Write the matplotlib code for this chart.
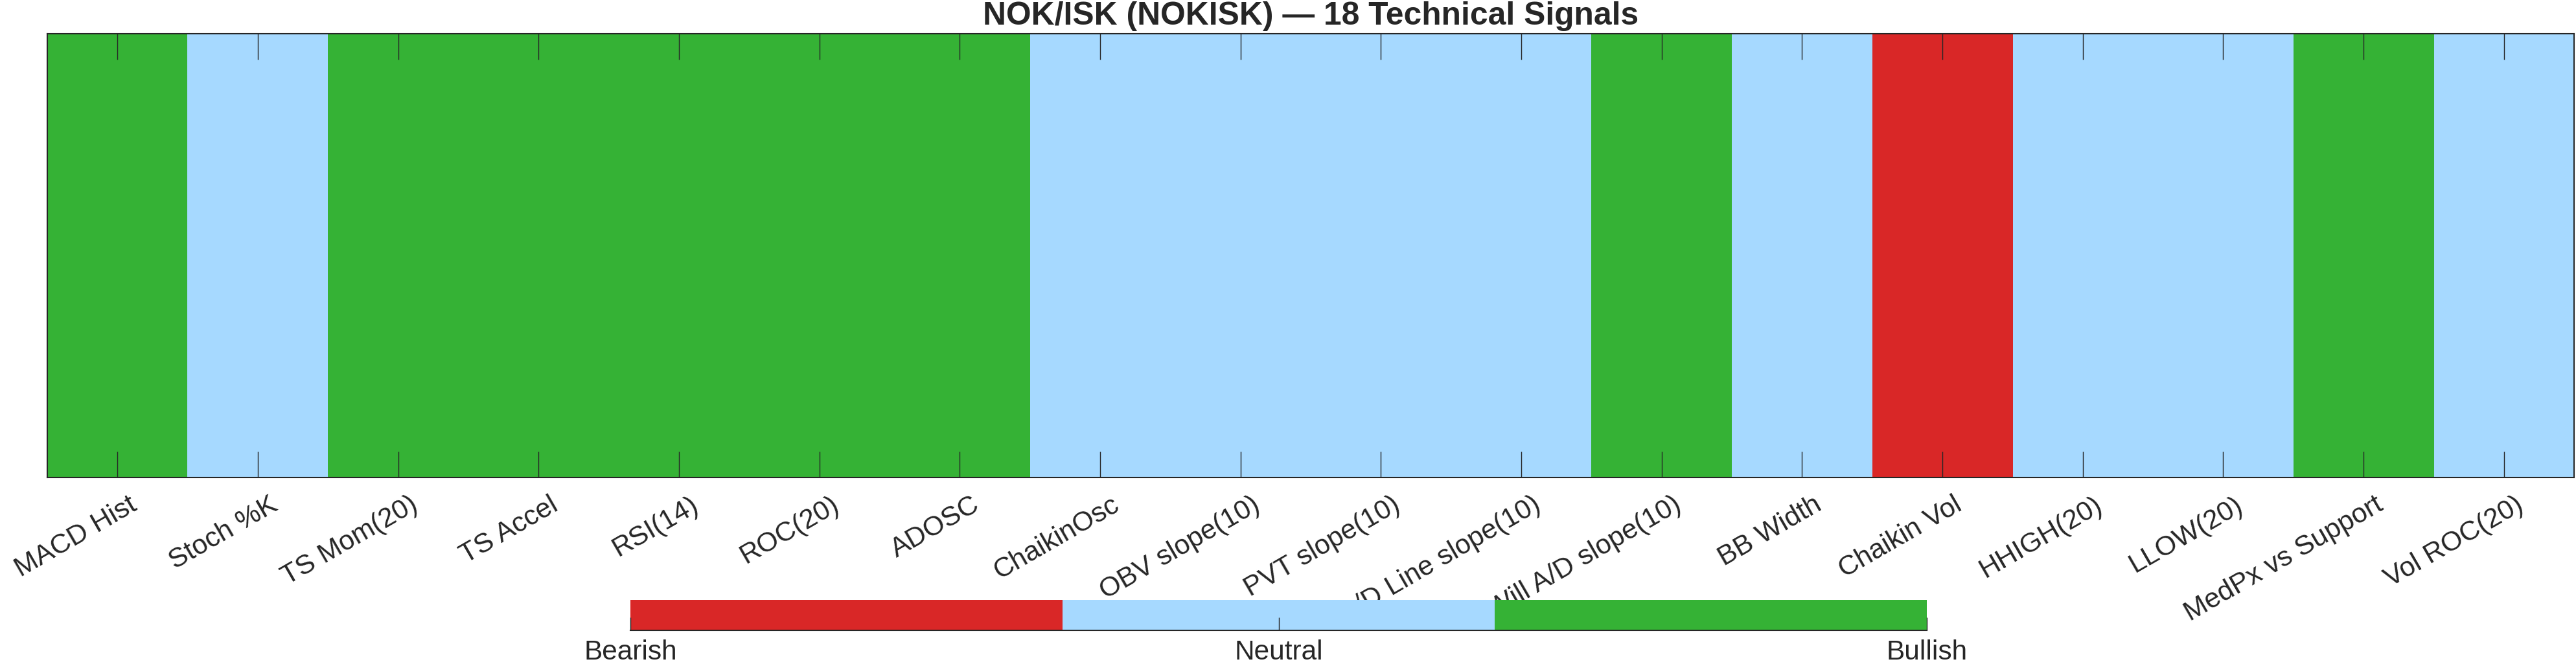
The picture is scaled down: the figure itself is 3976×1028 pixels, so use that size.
import numpy as np
import matplotlib
matplotlib.use("Agg")
import matplotlib.pyplot as plt
from matplotlib.colors import ListedColormap
from matplotlib.transforms import ScaledTranslation

plt.rcParams['font.family'] = ['Liberation Sans', 'DejaVu Sans']

# signal labels and states (-1 bearish, 0 neutral, 1 bullish)
signals = ["MACD Hist", "Stoch %K", "TS Mom(20)", "TS Accel", "RSI(14)", "ROC(20)",
           "ADOSC", "ChaikinOsc", "OBV slope(10)", "PVT slope(10)", "A/D Line slope(10)",
           "Will A/D slope(10)", "BB Width", "Chaikin Vol", "HHIGH(20)", "LLOW(20)",
           "MedPx vs Support", "Vol ROC(20)"]
states = [1, 0, 1, 1, 1, 1, 1, 0, 0, 0, 0, 1, 0, -1, 0, 0, 1, 0]
state_names = ["Bearish", "Neutral", "Bullish"]
state_vals = [-1, 0, 1]
state_colors = ["#D92727", "#A6D9FF", "#35B235"]

title = "NOK/ISK (NOKISK) \u2014 18 Technical Signals"
dark = "#262626"

cmap = ListedColormap(state_colors)

fig = plt.figure(figsize=(39.76, 10.28), dpi=100)
ax = fig.add_axes([0.01836, 0.28307, 0.98089, 0.66634])
im = ax.imshow(np.array([states]), cmap=cmap, vmin=-1, vmax=1, aspect="auto",
               interpolation="nearest")

ax.set_xticks(range(len(signals)))
ax.set_xticklabels(signals, rotation=30, ha="right", va="top", rotation_mode="anchor",
                   fontsize=30.5, color=dark)
ax.set_yticks([])
ax.tick_params(axis="x", direction="in", length=28.8, width=1.0, color=dark,
               top=True, bottom=True, pad=16)
for s in ax.spines.values():
    s.set_color(dark)
    s.set_linewidth(1.5)

shift = ScaledTranslation(0.17, 0, fig.dpi_scale_trans)
for lab in ax.get_xticklabels():
    lab.set_transform(lab.get_transform() + shift)

ax.set_title(title, fontsize=35.8, fontweight="bold", color=dark, pad=10)

cax = fig.add_axes([0.24472, 0.0535, 0.50327, 0.04572])
cb = fig.colorbar(im, cax=cax, orientation="horizontal", ticks=state_vals)
cb.set_ticklabels(state_names)
cb.outline.set_visible(False)
cax.spines["bottom"].set_visible(True)
cax.spines["bottom"].set_color(dark)
cax.spines["bottom"].set_linewidth(1.5)
cax.tick_params(direction="in", length=14.4, width=1.0, color=dark,
                labelsize=30.5, labelcolor=dark, pad=10)

fig.savefig("out.png", dpi=100)
